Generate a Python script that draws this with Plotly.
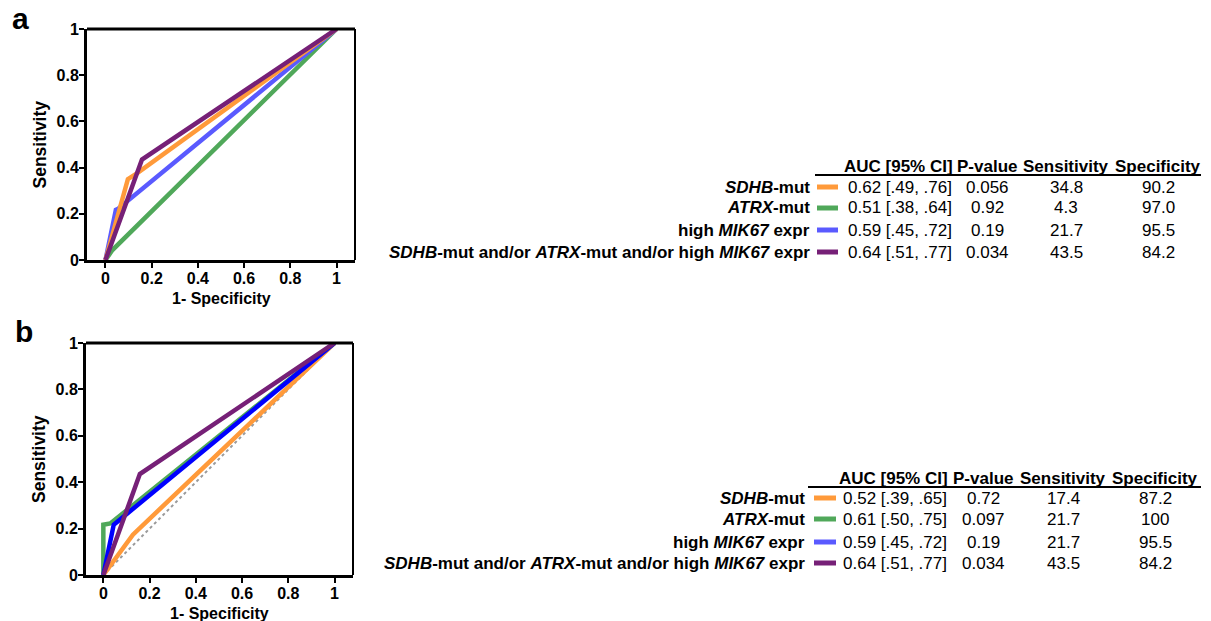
import plotly.graph_objects as go

# ---------------- data ----------------
row_labels = [
    "<b><i>SDHB</i>-mut</b>",
    "<b><i>ATRX</i>-mut</b>",
    "<b>high <i>MIK67</i> expr</b>",
    "<b><i>SDHB</i>-mut and/or <i>ATRX</i>-mut and/or high <i>MIK67</i> expr</b>",
]
headers = ["AUC [95% CI]", "P-value", "Sensitivity", "Specificity"]

a_auc = ["0.62 [.49, .76]", "0.51 [.38, .64]", "0.59 [.45, .72]", "0.64 [.51, .77]"]
a_p = ["0.056", "0.92", "0.19", "0.034"]
a_sens = ["34.8", "4.3", "21.7", "43.5"]
a_spec = ["90.2", "97.0", "95.5", "84.2"]

b_auc = ["0.52 [.39, .65]", "0.61 [.50, .75]", "0.59 [.45, .72]", "0.64 [.51, .77]"]
b_p = ["0.72", "0.097", "0.19", "0.034"]
b_sens = ["17.4", "21.7", "21.7", "43.5"]
b_spec = ["87.2", "100", "95.5", "84.2"]

# ROC curve points (1-specificity, sensitivity)
a_sdhb_x = [0, 0.097, 0.136, 1]
a_sdhb_y = [0, 0.350, 0.375, 1]
a_atrx_x = [0, 0.03, 1]
a_atrx_y = [0, 0.043, 1]
a_mik_x = [0, 0.045, 0.055, 1]
a_mik_y = [0, 0.217, 0.222, 1]
a_comb_x = [0, 0.158, 1]
a_comb_y = [0, 0.435, 1]

b_sdhb_x = [0, 0.128, 1]
b_sdhb_y = [0, 0.174, 1]
b_atrx_x = [0, 0, 0.03, 1]
b_atrx_y = [0, 0.217, 0.222, 1]
b_mik_x = [0, 0.045, 1]
b_mik_y = [0, 0.217, 1]
b_comb_x = [0, 0.158, 1]
b_comb_y = [0, 0.435, 1]
ref_x = [0, 1]
ref_y = [0, 1]

tick_vals = [0, 0.2, 0.4, 0.6, 0.8, 1]
tick_text = ["0", "0.2", "0.4", "0.6", "0.8", "1"]

# ---------------- style ----------------
W, H = 1211, 621
FONT = "Arial, Liberation Sans, sans-serif"
ORANGE = "#FF9A3A"
GREEN = "#50A85A"
BLUE_A = "#5A5AFF"
BLUE_B = "#0000FF"
PURPLE = "#762077"
swatch_colors = [ORANGE, GREEN, BLUE_A, PURPLE]


def fx(px):
    return px / W


def fy(py):
    return 1 - py / H


fig = go.Figure()


def add_line(x, y, color, xa, ya, width=4.5, dash="solid"):
    fig.add_trace(go.Scatter(x=x, y=y, mode="lines", xaxis=xa, yaxis=ya,
                             line=dict(color=color, width=width, dash=dash),
                             showlegend=False, hoverinfo="skip"))


# panel a
add_line(a_atrx_x, a_atrx_y, GREEN, "x", "y")
add_line(a_mik_x, a_mik_y, BLUE_A, "x", "y")
add_line(a_sdhb_x, a_sdhb_y, ORANGE, "x", "y")
add_line(a_comb_x, a_comb_y, PURPLE, "x", "y")
# panel b
add_line(ref_x, ref_y, "#9A9A9A", "x2", "y2", width=2, dash="dot")
add_line(b_sdhb_x, b_sdhb_y, ORANGE, "x2", "y2")
add_line(b_atrx_x, b_atrx_y, GREEN, "x2", "y2")
add_line(b_mik_x, b_mik_y, BLUE_B, "x2", "y2")
add_line(b_comb_x, b_comb_y, PURPLE, "x2", "y2")

axis_common = dict(
    tickvals=tick_vals, ticktext=["<b>" + t + "</b>" for t in tick_text],
    showgrid=False, zeroline=False, automargin=False,
    showline=True, linecolor="black", linewidth=3, ticks="outside",
    ticklen=5, tickwidth=2, tickcolor="black", ticklabelstandoff=-3,
    tickfont=dict(family=FONT, size=16, color="black"),
)

panels = [
    # (xaxis name, yaxis name, left, right, top, bottom, xrange)
    ("xaxis", "yaxis", 87, 355, 29, 260, [-0.08, 1.08]),
    ("xaxis2", "yaxis2", 86, 353, 343, 575, [-0.075, 1.08]),
]
layout = dict(width=W, height=H, autosize=False, template="none",
              margin=dict(l=0, r=0, t=0, b=0, pad=0, autoexpand=False),
              plot_bgcolor="white", paper_bgcolor="white",
              font=dict(family=FONT, color="black"))
for i, (xn, yn, l, r, t, b, xr) in enumerate(panels):
    suf = "" if i == 0 else "2"
    layout[xn] = dict(axis_common, domain=[fx(l), fx(r)], range=xr,
                      anchor="y" + suf, mirror=False)
    layout[yn] = dict(axis_common, domain=[fy(b), fy(t)], range=[0, 1],
                      anchor="x" + suf)
fig.update_layout(**layout)

shapes = []
annotations = []
for i, (xn, yn, l, r, t, b, xr) in enumerate(panels):
    shapes.append(dict(type="line", xref="paper", yref="paper",
                       x0=fx(l), x1=fx(r), y0=fy(t), y1=fy(t),
                       line=dict(color="black", width=3)))
    shapes.append(dict(type="line", xref="paper", yref="paper",
                       x0=fx(r), x1=fx(r), y0=fy(b), y1=fy(t),
                       line=dict(color="black", width=2)))
    annotations.append(dict(text="<b>Sensitivity</b>", xref="paper", yref="paper",
                            x=fx(39), y=fy((t + b) / 2), showarrow=False,
                            textangle=-90, font=dict(family=FONT, size=17.5, color="black"),
                            xanchor="center", yanchor="middle"))
    annotations.append(dict(text="<b>1- Specificity</b>", xref="paper", yref="paper",
                            x=fx((l + r) / 2), y=fy(b + 38), showarrow=False,
                            font=dict(family=FONT, size=16, color="black"),
                            xanchor="center", yanchor="middle"))

annotations.append(dict(text="<b>a</b>", xref="paper", yref="paper", x=fx(20), y=fy(18),
                        showarrow=False, font=dict(family=FONT, size=30, color="black"),
                        xanchor="center", yanchor="middle"))
annotations.append(dict(text="<b>b</b>", xref="paper", yref="paper", x=fx(24), y=fy(331),
                        showarrow=False, font=dict(family=FONT, size=30, color="black"),
                        xanchor="center", yanchor="middle"))

tables = [
    dict(hy=167, uy=175, ux0=815, rows=[187, 208, 230, 252], lab=812, sw0=817, sw1=838,
         auc_x=846, p_x=987, se_x=1066, sp_x=1158,
         auc=a_auc, p=a_p, sens=a_sens, spec=a_spec),
    dict(hy=478, uy=487, ux0=808, rows=[498, 519, 542, 563], lab=807, sw0=814, sw1=836,
         auc_x=841, p_x=983, se_x=1063, sp_x=1155,
         auc=b_auc, p=b_p, sens=b_sens, spec=b_spec),
]

TF = dict(family=FONT, size=17, color="black")
for tb in tables:
    shapes.append(dict(type="line", xref="paper", yref="paper",
                       x0=fx(tb["ux0"]), x1=fx(1201), y0=fy(tb["uy"]), y1=fy(tb["uy"]),
                       line=dict(color="black", width=2)))
    auc_center = tb["auc_x"] + 52
    for htxt, hx in zip(headers, [auc_center, tb["p_x"], tb["se_x"], tb["sp_x"]]):
        annotations.append(dict(text="<b>" + htxt + "</b>", xref="paper", yref="paper",
                                x=fx(hx), y=fy(tb["hy"]), showarrow=False, font=TF,
                                xanchor="center", yanchor="middle"))
    for k, ry in enumerate(tb["rows"]):
        annotations.append(dict(text=row_labels[k], xref="paper", yref="paper",
                                x=fx(tb["lab"]), y=fy(ry), showarrow=False, font=TF,
                                xanchor="right", yanchor="middle"))
        shapes.append(dict(type="rect", xref="paper", yref="paper",
                           x0=fx(tb["sw0"]), x1=fx(tb["sw1"]),
                           y0=fy(ry + 2.5), y1=fy(ry - 2.5),
                           fillcolor=swatch_colors[k], line=dict(width=0)))
        annotations.append(dict(text=tb["auc"][k], xref="paper", yref="paper",
                                x=fx(tb["auc_x"]), y=fy(ry), showarrow=False, font=TF,
                                xanchor="left", yanchor="middle"))
        for col, cx in zip([tb["p"], tb["sens"], tb["spec"]], [tb["p_x"], tb["se_x"], tb["sp_x"]]):
            annotations.append(dict(text=col[k], xref="paper", yref="paper",
                                    x=fx(cx), y=fy(ry), showarrow=False, font=TF,
                                    xanchor="center", yanchor="middle"))

fig.update_layout(shapes=shapes, annotations=annotations)
fig.write_html("out.html", post_script="document.body.style.margin='0';")
